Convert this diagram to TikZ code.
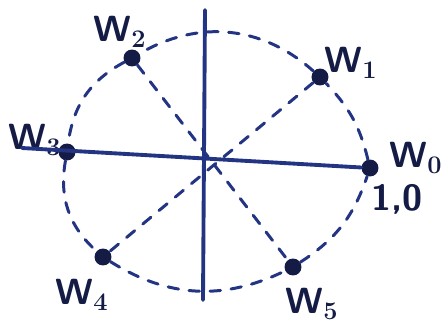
\documentclass[tikz,border=0pt]{standalone}
\usepackage{tikz}

\definecolor{ink}{RGB}{35,52,130}
\definecolor{inkdark}{RGB}{20,28,70}

\begin{document}
\begin{tikzpicture}[
    x=0.02cm, y=-0.02cm,
    line cap=round,
    axis/.style={ink, line width=2.2pt},
    guide/.style={ink, line width=1.7pt, dash pattern=on 6pt off 6pt},
    dot/.style={circle, fill=inkdark, minimum size=3.4mm, inner sep=0pt},
    lbl/.style={inkdark, font=\sffamily\bfseries\huge, inner sep=0pt}
]
  \useasboundingbox (0,0) rectangle (441,325);

  %--- roots ---
  \node[dot] (w0) at (370,168) {};
  \node[dot] (w1) at (320,77)  {};
  \node[dot] (w2) at (132,58)  {};
  \node[dot] (w3) at (67,152)  {};
  \node[dot] (w4) at (103,257) {};
  \node[dot] (w5) at (293,267) {};

  %--- axis ends ---
  \coordinate (xl) at (22,148);
  \coordinate (yt) at (205,10);
  \coordinate (yb) at (203,300);

  %--- labels ---
  \node[lbl] (l0) at (416,158) {W$_{\mathbf{0}}$};
  \node[lbl] (one) at (397,199) {1,0};
  \node[lbl] (l1) at (351,63)  {W$_{\mathbf{1}}$};
  \node[lbl] (l2) at (120,32)  {W$_{\mathbf{2}}$};
  \node[lbl] (l3) at (35,140)  {W$_{\mathbf{3}}$};
  \node[lbl] (l4) at (82,295)  {W$_{\mathbf{4}}$};
  \node[lbl] (l5) at (312,304) {W$_{\mathbf{5}}$};

  %--- circle through the roots ---
  \draw[guide] (w0) to[bend right=15] (w1);
  \draw[guide] (w1) to[bend right=36] (w2);
  \draw[guide] (w2) to[bend right=27] (w3);
  \draw[guide] (w3) to[bend right=29] (w4);
  \draw[guide] (w4) to[bend right=29] (w5);
  \draw[guide] (w5) to[bend right=19] (w0);

  %--- diagonals ---
  \draw[guide] (w1) -- (w4);
  \draw[guide] (w2) -- (w5);

  %--- axes ---
  \draw[axis] (xl) -- (w0);
  \draw[axis] (yt) -- (yb);
\end{tikzpicture}
\end{document}
